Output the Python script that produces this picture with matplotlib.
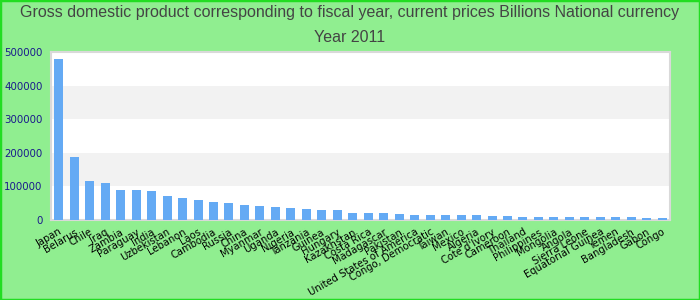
#!/usr/bin/env python

import numpy as np
import matplotlib
matplotlib.use('Agg')
import matplotlib.pyplot as plt

countries = [
    "Japan", "Belarus", "Chile", "Iraq", "Zambia", "Paraguay", "India",
    "Uzbekistan", "Lebanon", "Laos", "Cambodia", "Russia", "China", "Myanmar",
    "Uganda", "Nigeria", "Tanzania", "Guinea", "Hungary", "Kazakhstan",
    "Costa Rica", "Madagascar", "Pakistan", "United States of America",
    "Congo, Democratic", "Taiwan", "Mexico", "Algeria", "Cote d'Ivory",
    "Cameroon", "Thailand", "Philippines", "Mongolia", "Angola",
    "Sierra Leone", "Equatorial Guinea", "Yemen", "Bangladesh", "Gabon", "Congo",
]

gdp = [
    480000, 187000, 116000, 110000, 89000, 88500, 86000,
    71000, 65500, 59500, 53500, 50500, 44600, 41600,
    38600, 35600, 32700, 29700, 29200, 21000,
    20800, 20500, 17800, 15200,
    14900, 14700, 14500, 14300, 12000,
    11800, 9000, 8900, 8800, 8700,
    8600, 8500, 8400, 8300, 6000, 5900,
]

title_line1 = "Gross domestic product corresponding to fiscal year, current prices Billions National currency"
title_line2 = "Year 2011"

bg = '#90ee90'
bar_color = '#64aaf4'

fig = plt.figure(figsize=(7, 3), dpi=100, facecolor=bg)
ax = fig.add_axes([51 / 700, 1 - 220 / 300, 619 / 700, 168 / 300])
ax.set_facecolor('white')

x = np.arange(len(countries))
ax.bar(x, gdp, width=0.58, color=bar_color, zorder=3)

# alternating grey bands
for lo in (100000, 300000):
    ax.axhspan(lo, lo + 100000, color='#f2f2f2', zorder=1, lw=0)

ax.set_xlim(-0.5, len(countries) - 0.5)
ax.set_ylim(0, 500000)
ax.set_yticks(np.arange(0, 500001, 100000))
ax.set_yticklabels([str(v) for v in range(0, 500001, 100000)])
ax.tick_params(axis='y', length=0, pad=6, labelsize=7.4, labelcolor='#1a1a8c')
ax.set_xticks(x)
ax.set_xticklabels(countries, rotation=30, ha='right', rotation_mode='anchor')
ax.tick_params(axis='x', length=0, pad=5, labelsize=7.2, labelcolor='black')

for s in ax.spines.values():
    s.set_color('#d9d9d9')
    s.set_linewidth(1.5)

tfont = ['Liberation Sans Narrow', 'Liberation Sans', 'DejaVu Sans']
fig.text(0.5, 1 - 13 / 300, title_line1, ha='center', va='center',
         fontsize=11.5, color='#444444', family=tfont)
fig.text(0.5, 1 - 37 / 300, title_line2, ha='center', va='center',
         fontsize=11.5, color='#444444', family=tfont)

# green frame round the figure
fig.patches.append(plt.Rectangle((0, 0), 1, 1, transform=fig.transFigure,
                                 fill=False, edgecolor='#22dd22', lw=2.5))

fig.savefig('out.png', dpi=100, facecolor=bg)
